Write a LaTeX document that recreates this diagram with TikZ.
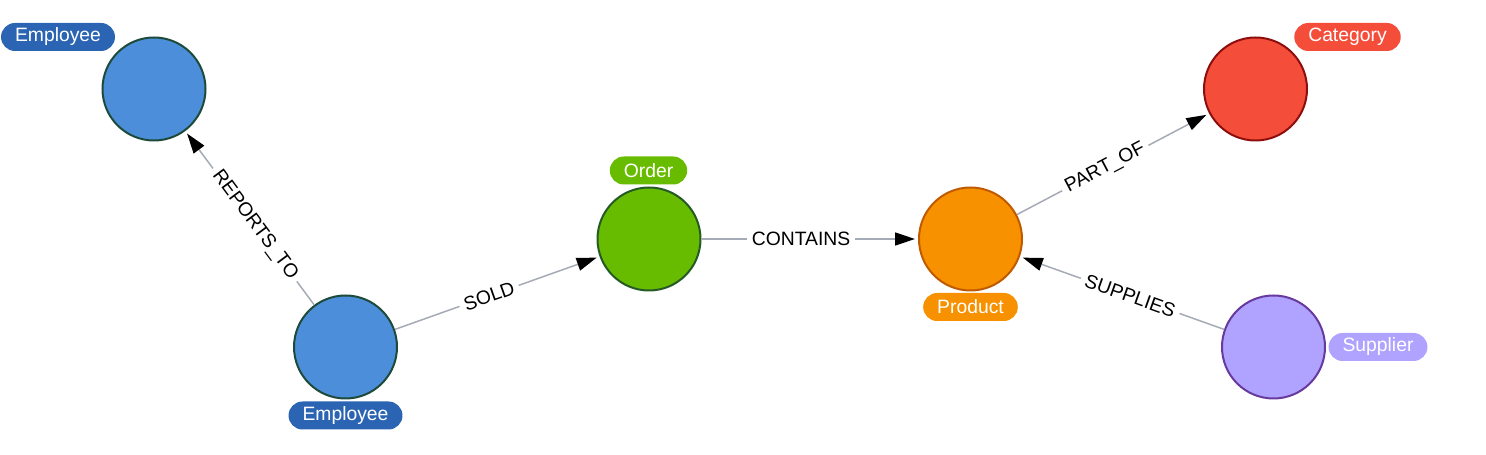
\documentclass[tikz,border=0pt]{standalone}
\usepackage{fontspec}
\setmainfont{Liberation Sans}
\usetikzlibrary{arrows.meta}

\definecolor{empfill}{HTML}{4C8EDA}
\definecolor{empline}{HTML}{1D4A3A}
\definecolor{emptag}{HTML}{2A64B2}
\definecolor{ordfill}{HTML}{68BC00}
\definecolor{ordline}{HTML}{245A26}
\definecolor{prodfill}{HTML}{F79100}
\definecolor{prodline}{HTML}{C05A00}
\definecolor{catfill}{HTML}{F44E3B}
\definecolor{catline}{HTML}{8E0E0E}
\definecolor{supfill}{HTML}{B0A2FF}
\definecolor{supline}{HTML}{673A9E}
\definecolor{edgegray}{HTML}{A5ABB6}

\begin{document}
\begin{tikzpicture}[
        entity/.style={circle, draw, line width=0.04cm, minimum size=2.06cm, inner sep=0pt},
        tag/.style={rounded corners=0.28cm, minimum height=0.56cm, inner xsep=0.28cm,
            inner ysep=0pt, text=white, font=\fontsize{11}{13}\selectfont},
        rel/.style={draw=edgegray, line width=0.03cm,
            -{Triangle[length=0.4cm, width=0.26cm, color=black]}, shorten >=0.06cm},
        rellabel/.style={sloped, pos=0.46, fill=white, inner xsep=0.1cm, inner ysep=0.02cm,
            text=black, font=\fontsize{11}{13}\selectfont}
    ]

        \useasboundingbox (0,0) rectangle (29.72,-9.1);

        % entities
        \node[entity, fill=empfill, draw=empline] (emptop) at (3.08,-1.78) {};
        \node[entity, fill=empfill, draw=empline] (empbot) at (6.91,-6.94) {};
        \node[entity, fill=ordfill, draw=ordline] (order) at (12.98,-4.78) {};
        \node[entity, fill=prodfill, draw=prodline] (product) at (19.41,-4.78) {};
        \node[entity, fill=catfill, draw=catline] (category) at (25.11,-1.78) {};
        \node[entity, fill=supfill, draw=supline] (supplier) at (25.47,-6.94) {};

        % tags
        \node[tag, fill=emptag] (emptoptag) at (1.16,-0.74) {Employee};
        \node[tag, fill=emptag] (empbottag) at (6.91,-8.31) {Employee};
        \node[tag, fill=ordfill] (ordertag) at (12.97,-3.41) {Order};
        \node[tag, fill=prodfill] (producttag) at (19.41,-6.14) {Product};
        \node[tag, fill=catfill] (categorytag) at (26.95,-0.74) {Category};
        \node[tag, fill=supfill] (suppliertag) at (27.56,-6.94) {Supplier};

        % relations
        \draw[rel]
            (empbot) -- node[rellabel] {REPORTS\_TO} (emptop);

        \draw[rel]
            (empbot) -- node[rellabel] {SOLD} (order);

        \draw[rel]
            (order) -- node[rellabel] {CONTAINS} (product);

        \draw[rel]
            (product) -- node[rellabel] {PART\_OF} (category);

        \draw[rel]
            (supplier) -- node[rellabel] {SUPPLIES} (product);

    \end{tikzpicture}
\end{document}
